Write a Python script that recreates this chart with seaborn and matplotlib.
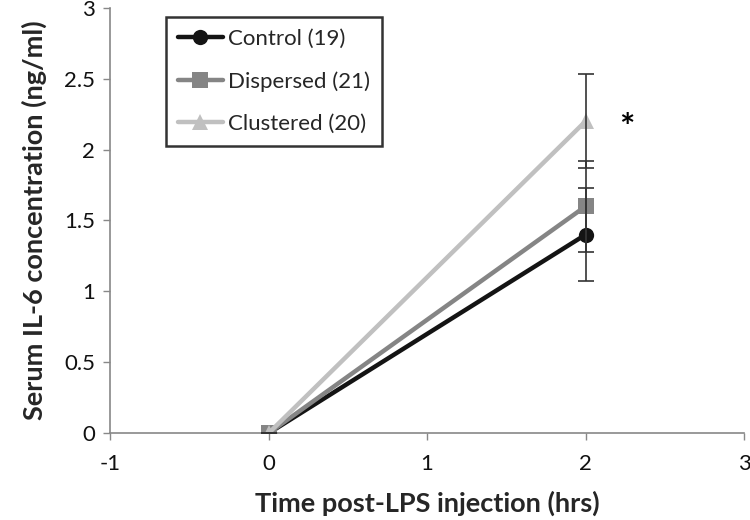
import matplotlib
matplotlib.use("Agg")
import matplotlib.pyplot as plt
import seaborn as sns
import pandas as pd
import numpy as np

# Data
time_hrs = [0, 2]
groups = ["Control (19)", "Dispersed (21)", "Clustered (20)"]
control = [0.0, 1.40]
dispersed = [0.0, 1.60]
clustered = [0.0, 2.20]
control_err = [0.0, 0.33]
dispersed_err = [0.0, 0.32]
clustered_err = [0.0, 0.33]
x_ticks = [-1, 0, 1, 2, 3]
y_ticks = [0, 0.5, 1, 1.5, 2, 2.5, 3]
y_tick_labels = ["0", "0.5", "1", "1.5", "2", "2.5", "3"]

colors = ["#141414", "#858585", "#c0c0c0"]
markers = ["o", "s", "^"]

sns.set_style("white")
plt.rcParams["font.family"] = ["Lato", "DejaVu Sans"]

df = pd.DataFrame({
    "time": time_hrs * 3,
    "value": control + dispersed + clustered,
    "group": [groups[0]] * 2 + [groups[1]] * 2 + [groups[2]] * 2,
})

fig = plt.figure(figsize=(7.5, 5.2), dpi=100)
ax = fig.add_axes([0.147, 0.167, 0.845, 0.818])

sns.lineplot(data=df, x="time", y="value", hue="group", style="group",
             hue_order=groups, style_order=groups,
             palette=colors, markers=markers, dashes=False,
             linewidth=3.2, markersize=11, markeredgewidth=0,
             ax=ax, zorder=3)

for vals, errs in [(control, control_err), (dispersed, dispersed_err), (clustered, clustered_err)]:
    ax.errorbar(time_hrs, vals, yerr=errs, fmt="none", ecolor="#333333",
                elinewidth=1.2, capsize=6, capthick=1.2, zorder=4)

ax.text(2.26, 2.15, "*", fontsize=26, fontweight="bold", ha="center", va="center", color="black")

ax.set_xlim(-1, 3)
ax.set_ylim(0, 3)
ax.set_xticks(x_ticks)
ax.set_xticklabels([str(t) for t in x_ticks])
ax.set_yticks(y_ticks)
ax.set_yticklabels(y_tick_labels)
ax.tick_params(axis="both", labelsize=16, colors="#888888", labelcolor="#111111",
               direction="out", length=5, width=1, bottom=True, left=True)
ax.tick_params(axis="x", pad=10)
ax.tick_params(axis="y", pad=6)

for s in ["top", "right"]:
    ax.spines[s].set_visible(False)
for s in ["left", "bottom"]:
    ax.spines[s].set_color("#888888")
    ax.spines[s].set_linewidth(1.2)

ax.set_xlabel("Time post-LPS injection (hrs)", fontsize=19.5, fontweight="bold", labelpad=12)
ax.set_ylabel("Serum IL-6 concentration (ng/ml)", fontsize=19.5, fontweight="bold", labelpad=12)

leg = ax.legend(loc="upper left", bbox_to_anchor=(0.088, 0.979), borderaxespad=0,
                fontsize=16, frameon=True, fancybox=False, edgecolor="black",
                handlelength=2.0, labelspacing=1.0, borderpad=0.55, handletextpad=0.25)
leg.get_frame().set_linewidth(1.8)

fig.savefig("out.png", dpi=100)
